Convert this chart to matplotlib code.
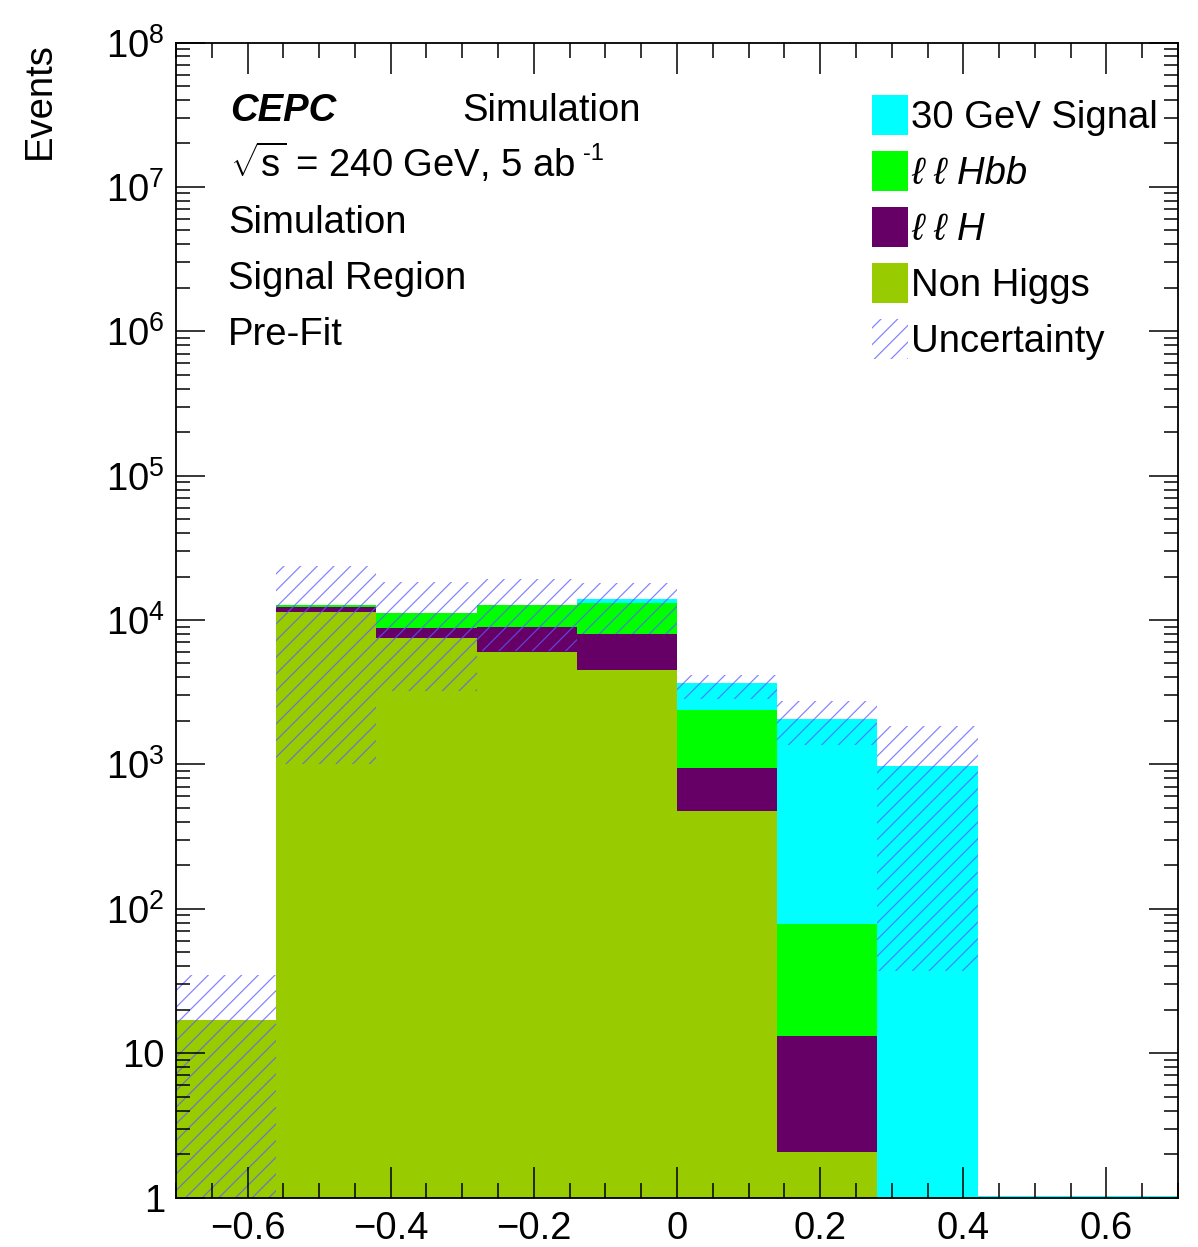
import numpy as np
import matplotlib
matplotlib.use("Agg")
import matplotlib.pyplot as plt
from matplotlib.patches import Rectangle
from matplotlib.ticker import MultipleLocator, LogLocator, FuncFormatter, NullFormatter

plt.rcParams['font.family'] = ['Liberation Sans', 'DejaVu Sans']
plt.rcParams['mathtext.fontset'] = 'custom'
plt.rcParams['mathtext.rm'] = 'Liberation Sans'
plt.rcParams['mathtext.it'] = 'Liberation Sans:italic'
plt.rcParams['mathtext.bf'] = 'Liberation Sans:bold'
plt.rcParams['hatch.linewidth'] = 0.9

# bin edges of the discriminant, 10 bins
edges = np.linspace(-0.7, 0.7, 11)

# stacked yields per bin (bottom -> top)
non_higgs = [17, 11430, 7520, 6000, 4470, 473, 2.06, 0, 0, 0]
llh       = [0, 950, 1290, 2900, 3550, 473, 11.1, 0, 0, 0]
llhbb     = [0, 410, 2440, 3900, 5170, 1420, 65.4, 0, 0, 0]
signal    = [0, 0, 0, 0, 810, 1284, 1996, 981, 1.03, 1.03]

# uncertainty band edges
unc_lo = [0.5, 1013, 3245, 6140, 8050, 2855, 1356, 37, 0, 0]
unc_hi = [34.5, 23800, 18240, 19350, 17900, 4190, 2766, 1836, 0, 0]

labels = ["30 GeV Signal", "ℓ ℓ Hbb", "ℓ ℓ H", "Non Higgs", "Uncertainty"]
colors = ["#00ffff", "#00ff00", "#660066", "#99cc00"]
hatch_col = (0.36, 0.36, 1.0, 0.75)

W, H = 1198, 1247
fig = plt.figure(figsize=(W / 100, H / 100), dpi=100)
ax = fig.add_axes([176 / W, 1 - 1197.5 / H, 1002 / W, 1155 / H])

def px(x, y):
    return x / W, 1 - y / H

centers = 0.5 * (edges[:-1] + edges[1:])
width = np.diff(edges)

bottom = np.zeros(10)
for vals, c in zip([non_higgs, llh, llhbb, signal], colors[::-1]):
    v = np.array(vals, dtype=float)
    ax.bar(centers, v, width=width, bottom=np.where(bottom > 0, bottom, 1e-3),
           color=c, linewidth=0, align='center')
    bottom = bottom + v

lo = np.array(unc_lo, dtype=float)
hi = np.array(unc_hi, dtype=float)
m = hi > 0
ax.bar(centers[m], hi[m] - lo[m], width=width[m], bottom=lo[m], facecolor='none',
       edgecolor=hatch_col, linewidth=0, hatch='//', align='center')

ax.set_xlim(-0.7, 0.7)
ax.set_yscale('log')
ax.set_ylim(1, 1e8)

ax.xaxis.set_major_locator(MultipleLocator(0.2))
ax.xaxis.set_minor_locator(MultipleLocator(0.05))
ax.xaxis.set_major_formatter(FuncFormatter(
    lambda v, p: "0" if abs(v) < 1e-9 else f"{v:.1f}".replace("-", "\u2212")))
ax.yaxis.set_major_locator(LogLocator(base=10, numticks=20))
ax.yaxis.set_minor_locator(LogLocator(base=10, subs=np.arange(2, 10), numticks=20))
ax.yaxis.set_minor_formatter(NullFormatter())

def ylab(v, p):
    n = int(round(np.log10(v)))
    if n == 0:
        return "1"
    if n == 1:
        return "10"
    return r"$10^{%d}$" % n
ax.yaxis.set_major_formatter(FuncFormatter(ylab))

ax.tick_params(which='both', direction='in', top=True, right=True, width=1.1,
               labelsize=27.5, color='black')
ax.tick_params(axis='x', which='major', length=22, pad=10)
ax.tick_params(axis='x', which='minor', length=11)
ax.tick_params(axis='y', which='major', length=21, pad=8)
ax.tick_params(axis='y', which='minor', length=10)
for s in ax.spines.values():
    s.set_linewidth(1.3)

fig.text(*px(40, 42), "Events", rotation=90, ha='center', va='top', fontsize=27.5)

# labels
fs = 27.5
fig.text(*px(230, 121), "CEPC", fontsize=fs, fontweight='bold', fontstyle='italic', va='baseline')
fig.text(*px(462, 121), "Simulation", fontsize=fs, va='baseline')
fig.text(*px(230, 177), r"$\sqrt{\mathrm{s}}$ = 240 GeV, 5 ab", fontsize=fs, va='baseline')
fig.text(*px(583, 160), "-1", fontsize=17, va='baseline')
fig.text(*px(228, 233), "Simulation", fontsize=fs, va='baseline')
fig.text(*px(228, 289), "Signal Region", fontsize=fs, va='baseline')
fig.text(*px(228, 345), "Pre-Fit", fontsize=fs, va='baseline')

# legend
for i, lab in enumerate(labels):
    y0 = 95 + 56 * i
    x0, y1 = px(872, y0 + 40)
    if i < 4:
        r = Rectangle((x0, y1), 36 / W, 40 / H, transform=fig.transFigure,
                      facecolor=colors[i], edgecolor='none')
    else:
        r = Rectangle((x0, y1), 36 / W, 40 / H, transform=fig.transFigure,
                      facecolor='none', edgecolor=hatch_col, linewidth=0, hatch='//')
    fig.add_artist(r)
    style = 'italic' if i in (1, 2) else 'normal'
    fig.text(*px(911, y0 + 33), lab, fontsize=fs, va='baseline', fontstyle=style, zorder=5)

fig.savefig("out.png", dpi=100)
